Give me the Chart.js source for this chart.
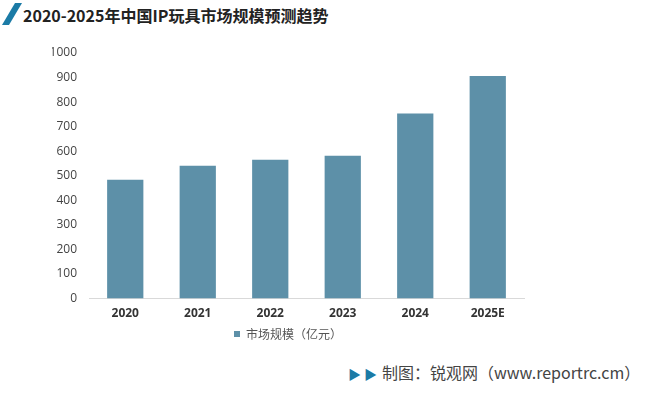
<!DOCTYPE html>
<html>
<head>
<meta charset="utf-8">
<script src="https://cdn.jsdelivr.net/npm/chart.js@4"></script>
<style>
  html, body { margin:0; padding:0; background:#fff; }
  body { width:660px; height:395px; position:relative; overflow:hidden;
         font-family:"Noto Sans CJK SC","Noto Sans",sans-serif; }
  #wrap { position:absolute; left:0; top:0; width:660px; height:356px; }
  .title { position:absolute; left:23px; top:4px; font-size:16px; font-weight:bold; color:#222; line-height:22px; }
  .slash { position:absolute; left:0; top:0; }
  .foot { position:absolute; left:348px; top:360px; font-size:16px; color:#444; line-height:24px; white-space:nowrap; }
  .tri { color:#1b7ba6; font-size:13px; margin-right:5px; }
</style>
</head>
<body>
<svg class="slash" width="24" height="28"><polygon points="15,3 22,3 9,25 2,25" fill="#1b7ba6"/></svg>
<div class="title">2020-2025年中国IP玩具市场规模预测趋势</div>
<div id="wrap"><canvas id="c"></canvas></div>
<div class="foot"><span class="tri">▶ ▶</span>制图：锐观网（www.reportrc.cm）</div>
<script>
// ===== Data =====
const years = ['2020', '2021', '2022', '2023', '2024', '2025E'];
const marketSize = [484, 541, 565, 582, 754, 906];   // 亿元
const seriesLabel = '市场规模（亿元）';

const ctx = document.getElementById('c').getContext('2d');
new Chart(ctx, {
  type: 'bar',
  data: {
    labels: years,
    datasets: [{ label: seriesLabel, data: marketSize, backgroundColor: '#5d90a8',
                 categoryPercentage: 1.0, barPercentage: 0.5 }]
  },
  options: {
    animation:false, responsive:true, maintainAspectRatio:false,
    layout:{ padding:{ left:52, right:136, top:53, bottom:6 } },
    plugins:{
      legend:{ position:'bottom',
        labels:{ boxWidth:6, boxHeight:6, padding:4, color:'#555',
                 font:{ size:12, family:'"Noto Sans CJK SC", sans-serif' } } },
      tooltip:{ enabled:false }
    },
    scales:{
      x:{ grid:{ display:false, drawTicks:false }, border:{ color:'#d9d9d9' },
          ticks:{ color:'#333', padding:8, font:{ size:12, weight:'bold', family:'"Open Sans", sans-serif' } },
          afterFit: s => { s.height -= 5; } },
      y:{ min:0, max:1000, grid:{ display:false, drawTicks:false }, border:{ display:false },
          ticks:{ stepSize:100, color:'#444', padding:12, callback: v => String(v),
                  font:{ size:12, family:'"Open Sans", sans-serif' } },
          afterFit: s => { s.width = 37; } }
    }
  }
});
</script>
</body>
</html>
